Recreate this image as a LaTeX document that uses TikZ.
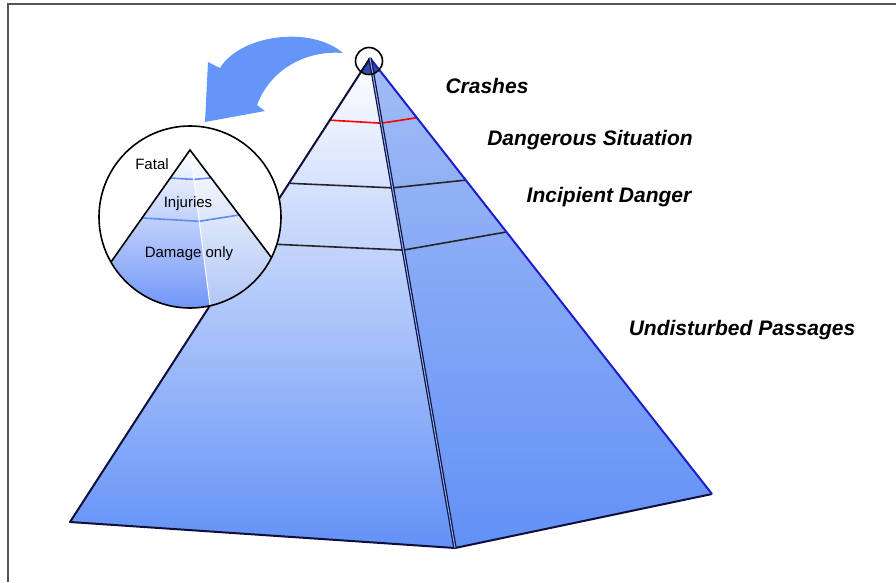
\documentclass[tikz,border=0pt]{standalone}
\usepackage{fontspec}
\newfontfamily\labelfont{Liberation Sans}
\usetikzlibrary{calc}
\definecolor{pyrblue}{RGB}{98,145,246}
\definecolor{pyrlight}{RGB}{200,214,250}
\definecolor{sideblue}{RGB}{162,188,245}
\definecolor{tipblue}{RGB}{50,72,170}
\definecolor{arrowblue}{RGB}{100,150,250}
\definecolor{edgenavy}{RGB}{15,15,60}
\definecolor{rightedge}{RGB}{30,30,200}
\definecolor{framegray}{RGB}{85,85,85}
\definecolor{layerblue}{RGB}{95,140,240}
\tikzset{
  % tingkat piramida: teks di kanan
  levellabel/.style={font=\labelfont\bfseries\itshape\fontsize{21}{21}\selectfont,
                     text=black, inner sep=0pt, anchor=base},
  % teks di dalam lingkaran zoom
  zoomlabel/.style={font=\labelfont\fontsize{15}{15}\selectfont,
                    text=black, inner sep=0pt, anchor=base},
  % garis
  pyredge/.style={draw=edgenavy, line width=2pt, line join=round},
  layerline/.style={draw=black!85, line width=1.6pt},
  minilayer/.style={draw=layerblue, line width=1.6pt},
}

\begin{document}
\begin{tikzpicture}[x=1pt,y=-1pt]
\useasboundingbox (0,0) rectangle (896,582);

% bingkai
\draw[framegray, line width=2pt] (7.5,582) -- (7.5,3.7) -- (896,3.7);

% =================== PIRAMIDA ===================
\coordinate (apex) at (370,58);
\coordinate (bl) at (70,522);
\coordinate (bf) at (455,548);
\coordinate (br) at (712,494);

\fill[top color=white, middle color=pyrlight, bottom color=pyrblue]
  (apex) -- (bl) -- (bf) -- cycle;
\fill[top color=sideblue, bottom color=pyrblue]
  (apex) -- (bf) -- (br) -- cycle;

% ujung atas (gelap)
\begin{scope}
  \clip (369,61) circle (13);
  \fill[tipblue] (apex) -- (bl) -- (bf) -- (br) -- cycle;
\end{scope}

% batas tingkat
\draw[red, line width=1.6pt] ($(apex)!0.134!(bl)$) -- ($(apex)!0.133!(bf)$) -- ($(apex)!0.137!(br)$);
\draw[layerline] ($(apex)!0.27!(bl)$) -- ($(apex)!0.265!(bf)$) -- ($(apex)!0.28!(br)$);
\draw[layerline] ($(apex)!0.399!(bl)$) -- ($(apex)!0.392!(bf)$) -- ($(apex)!0.399!(br)$);

% rusuk
\draw[pyredge] (apex) -- (bl) -- (bf) -- (br);
\draw[rightedge, line width=2pt] (apex) -- (br);
\draw[edgenavy, double=pyrblue!70, double distance=1pt, line width=1.2pt] (apex) -- (bf);

\node[draw=black, line width=1.6pt, circle, minimum size=27pt, inner sep=0pt] (tipring) at (369,61) {};

% =================== PANAH ===================
\fill[arrowblue] (220,68) .. controls (240,35) and (310,25) .. (343,53)
  .. controls (305,50) and (270,70) .. (257,105)
  -- (265,111) -- (205,122) -- (208,62) -- cycle;

% =================== LINGKARAN ZOOM ===================
\coordinate (zc) at (190,217);
\coordinate (mtop) at (190,150);
\coordinate (mleft) at (111,262);
\coordinate (mfront) at (210,305);
\coordinate (mright) at (271,257);

\fill[white] (zc) circle (91);
\begin{scope}
  \clip (zc) circle (91);
  \fill[top color=white, bottom color=pyrblue!90!blue]
    (mtop) -- ($(mtop)!1.3!(mleft)$) -- ($(mtop)!1.2!(mfront)$) -- cycle;
  \fill[top color=white, bottom color=sideblue]
    (mtop) -- ($(mtop)!1.2!(mfront)$) -- ($(mtop)!1.3!(mright)$) -- cycle;
\end{scope}
\draw[minilayer] ($(mtop)!0.25!(mleft)$) -- ($(mtop)!0.19!(mfront)$) -- ($(mtop)!0.26!(mright)$);
\draw[minilayer] ($(mtop)!0.607!(mleft)$) -- ($(mtop)!0.46!(mfront)$) -- ($(mtop)!0.607!(mright)$);
\draw[white, line width=1pt] (mtop) -- (mfront);
\draw[black, line width=1.6pt] (mleft) -- (mtop) -- (mright);
\node[draw=black, line width=1.6pt, circle, minimum size=182pt, inner sep=0pt] (zoom) at (zc) {};

\node[zoomlabel] (fatal) at (152,169) {Fatal};
\node[zoomlabel] (injuries) at (188,207) {Injuries};
\node[zoomlabel] (damage) at (189,257) {Damage only};

% =================== LABEL TINGKAT ===================
\node[levellabel] (crashes) at (487,93) {Crashes};
\node[levellabel] (dangerous) at (590,145) {Dangerous Situation};
\node[levellabel] (incipient) at (609,202) {Incipient Danger};
\node[levellabel] (undisturbed) at (742,335) {Undisturbed Passages};

\end{tikzpicture}
\end{document}
